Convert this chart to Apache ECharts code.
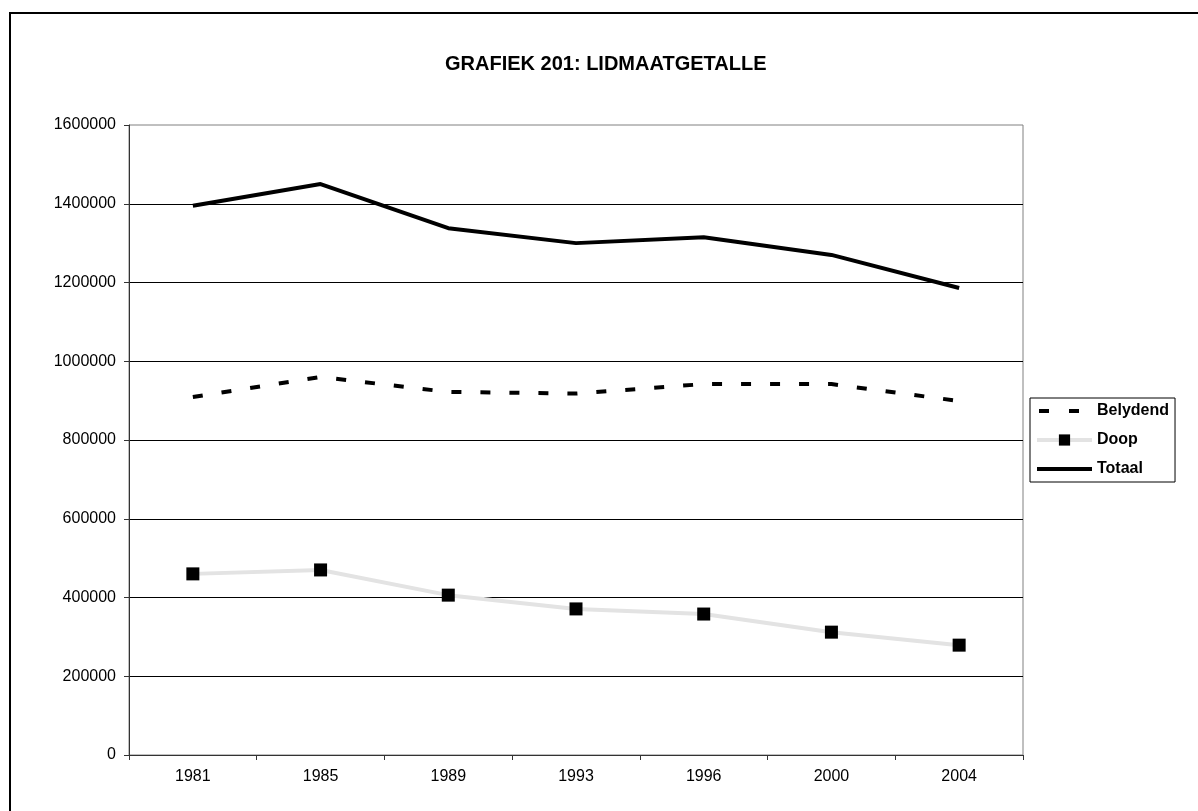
<!DOCTYPE html>
<html>
<head>
<meta charset="utf-8">
<title>Grafiek 201: Lidmaatgetalle</title>
<script src="https://cdn.jsdelivr.net/npm/echarts@6/dist/echarts.min.js"></script>
<style>
  html, body { margin: 0; padding: 0; background: #fff; }
  #chart { width: 1198px; height: 811px; }
</style>
</head>
<body>
<div id="chart"></div>
<script>
// membership figures
const years = ['1981', '1985', '1989', '1993', '1996', '2000', '2004'];
const belydend = [909000, 960000, 922000, 918000, 942000, 942000, 899000];
const doop = [460000, 470000, 406000, 371000, 358000, 312000, 279000];
const totaal = [1395000, 1450000, 1338000, 1300000, 1315000, 1270000, 1186000];

const FONT = "'Liberation Sans', Arial, sans-serif";

const chart = echarts.init(document.getElementById('chart'));

chart.setOption({
  animation: false,
  backgroundColor: '#fff',
  graphic: [{
    type: 'rect',
    shape: { x: 10, y: 13, width: 1400, height: 1000 },
    style: { fill: 'none', stroke: '#000', lineWidth: 2 },
    silent: true,
    z: -1,
  }],
  title: {
    text: 'GRAFIEK 201: LIDMAATGETALLE',
    left: 445, top: 54,
    padding: 0,
    textStyle: { fontFamily: FONT, fontSize: 20, fontWeight: 'bold', color: '#000' },
  },
  legend: {
    orient: 'vertical',
    left: 1030, top: 398,
    padding: [5, 6, 5, 5],
    itemWidth: 55, itemHeight: 14, itemGap: 13,
    borderColor: '#000', borderWidth: 1,
    backgroundColor: '#fff',
    textStyle: { fontFamily: FONT, fontSize: 16, fontWeight: 'bold', color: '#000' },
    data: [
      { name: 'Belydend', itemStyle: { opacity: 0 },
        lineStyle: { color: '#000', width: 4, type: [10, 20], dashOffset: 28 } },
      { name: 'Doop', itemStyle: { color: '#000' },
        lineStyle: { color: '#e3e3e3', width: 4 } },
      { name: 'Totaal', itemStyle: { opacity: 0 },
        lineStyle: { color: '#000', width: 4 } },
    ],
  },
  grid: { left: 129, right: 175, top: 125, bottom: 56, show: true, borderColor: '#808080', borderWidth: 1 },
  xAxis: {
    type: 'category',
    data: years,
    boundaryGap: true,
    axisLine: { lineStyle: { color: '#333', width: 1 } },
    axisTick: { show: true, length: 5, inside: false, lineStyle: { color: '#333' } },
    axisLabel: { fontFamily: FONT, fontSize: 16, color: '#000', margin: 14 },
  },
  yAxis: {
    type: 'value',
    min: 0, max: 1600000, interval: 200000,
    axisLine: { show: true, lineStyle: { color: '#333', width: 1 } },
    axisTick: { show: true, length: 5, lineStyle: { color: '#333' } },
    axisLabel: {
      fontFamily: FONT, fontSize: 16, color: '#000', margin: 13,
      formatter: v => String(v),
    },
    splitLine: { show: true, showMaxLine: false, lineStyle: { color: '#000', width: 1 } },
  },
  series: [
    {
      name: 'Belydend', type: 'line',
      data: belydend,
      symbol: 'none',
      lineStyle: { color: '#000', width: 4, type: [10, 19] },
      itemStyle: { color: '#000' },
    },
    {
      name: 'Doop', type: 'line',
      data: doop,
      symbol: 'rect', symbolSize: 13,
      lineStyle: { color: '#e3e3e3', width: 4 },
      itemStyle: { color: '#000' },
    },
    {
      name: 'Totaal', type: 'line',
      data: totaal,
      symbol: 'none',
      lineStyle: { color: '#000', width: 4 },
      itemStyle: { color: '#000' },
    },
  ],
});
</script>
</body>
</html>
